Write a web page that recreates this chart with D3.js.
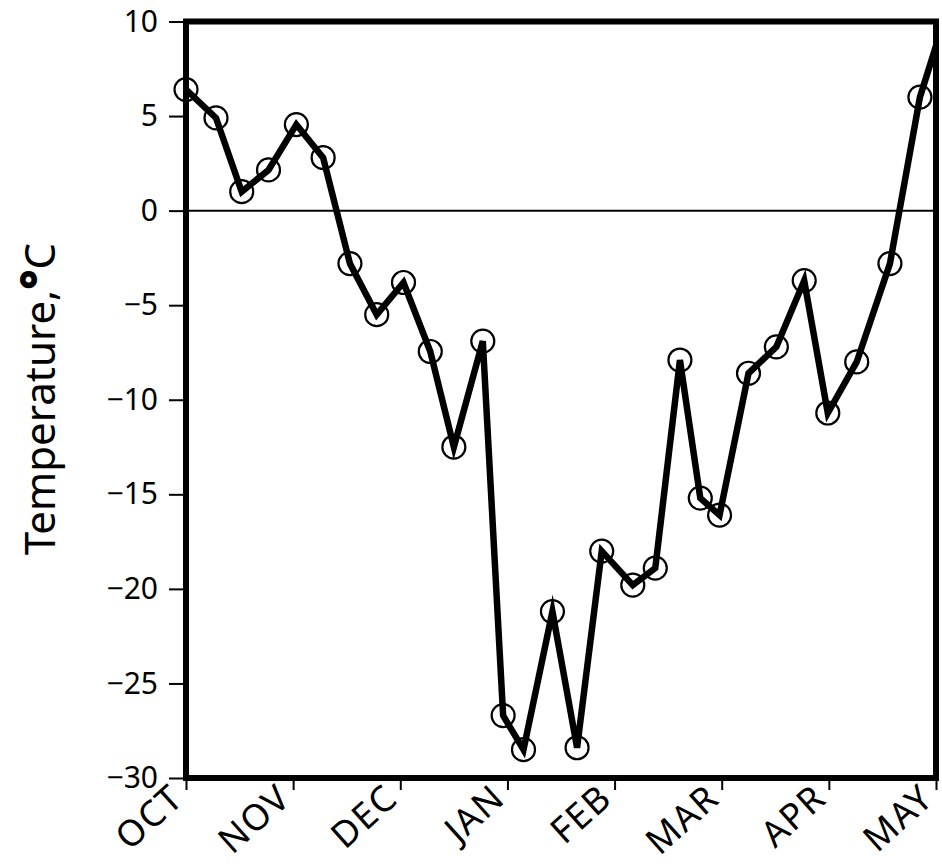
<!DOCTYPE html>
<html>
<head>
<meta charset="utf-8">
<script src="https://cdn.jsdelivr.net/npm/d3@7"></script>
<style>
  html, body { margin: 0; padding: 0; background: #fff; }
  svg { display: block; }
  text { font-family: "Noto Sans", "DejaVu Sans", sans-serif; fill: #000; }
</style>
</head>
<body>
<script>
// ---- data ----
const months = ["OCT", "NOV", "DEC", "JAN", "FEB", "MAR", "APR", "MAY"];
const monthIndex = [0, 1, 2, 3, 4, 5, 6, 7];
// observation position, in months after 1 October
const obsMonth = [0.0, 0.28, 0.52, 0.77, 1.03, 1.28, 1.53, 1.78, 2.03, 2.28,
                  2.50, 2.77, 2.96, 3.15, 3.42, 3.65, 3.88, 4.17, 4.38, 4.61,
                  4.80, 4.98, 5.25, 5.51, 5.77, 5.99, 6.26, 6.57, 6.85, 7.0];
// temperature, °C
const obsTemp = [6.4, 4.9, 1.0, 2.15, 4.55, 2.8, -2.8, -5.5, -3.8, -7.45,
                 -12.5, -6.9, -26.7, -28.5, -21.2, -28.4, -18.0, -19.8, -18.9, -7.9,
                 -15.2, -16.1, -8.6, -7.2, -3.7, -10.7, -8.0, -2.8, 6.0, 8.7];
const yTicks = [10, 5, 0, -5, -10, -15, -20, -25, -30];
const yTitleMain = "Temperature,";
const yTitleDeg = "°";
const yTitleUnit = "C";

// ---- layout ----
const W = 942, H = 867;
const mLeft = 186, mRight = 936, mTop = 21.5, mBottom = 778;

const svg = d3.select("body").append("svg").attr("width", W).attr("height", H);

const x = d3.scaleLinear().domain([0, 7]).range([mLeft, mRight]);
const y = d3.scaleLinear().domain([-30, 10]).range([mBottom, mTop]);

// zero line
svg.append("line")
  .attr("x1", mLeft).attr("x2", mRight)
  .attr("y1", y(0)).attr("y2", y(0))
  .attr("stroke", "#000").attr("stroke-width", 2);

// y axis ticks + labels
const yAxis = d3.axisLeft(y).tickValues(yTicks).tickSize(17).tickPadding(11)
  .tickFormat(d => d < 0 ? "\u2212" + Math.abs(d) : String(d));
const gy = svg.append("g").attr("transform", `translate(${mLeft},0)`).call(yAxis);
gy.select(".domain").remove();
gy.selectAll(".tick line").attr("stroke", "#000").attr("stroke-width", 2);
gy.selectAll(".tick text")
  .style("font-family", "'Noto Sans', sans-serif")
  .style("font-size", "30px").attr("fill", "#000");

// x axis ticks + rotated labels
const xAxis = d3.axisBottom(x).tickValues(monthIndex).tickSize(12)
  .tickFormat(i => months[i]);
const gx = svg.append("g").attr("transform", `translate(0,${mBottom})`).call(xAxis);
gx.select(".domain").remove();
gx.selectAll(".tick line").attr("stroke", "#000").attr("stroke-width", 2);
gx.selectAll(".tick text")
  .attr("y", 0).attr("dy", 0)
  .attr("text-anchor", "end")
  .attr("transform", "translate(-1,23) rotate(-42)")
  .style("font-family", "'Noto Sans', sans-serif")
  .style("letter-spacing", "1.5px")
  .style("font-size", "36px").attr("fill", "#000");

// line
const pts = obsMonth.map((m, i) => [m, obsTemp[i]]);
svg.append("path")
  .datum(pts)
  .attr("fill", "none")
  .attr("stroke", "#000")
  .attr("stroke-width", 6.5)
  .attr("stroke-linejoin", "miter")
  .attr("stroke-miterlimit", 6)
  .attr("d", d3.line().x(d => x(d[0])).y(d => y(d[1])));

// open circle markers (last point hidden by frame in the original)
svg.append("g").selectAll("circle")
  .data(pts.slice(0, pts.length - 1))
  .join("circle")
  .attr("cx", d => x(d[0]))
  .attr("cy", d => y(d[1]))
  .attr("r", 11.5)
  .attr("fill", "none")
  .attr("stroke", "#000")
  .attr("stroke-width", 2.2);

// frame
svg.append("rect")
  .attr("x", mLeft).attr("y", mTop)
  .attr("width", mRight - mLeft).attr("height", mBottom - mTop)
  .attr("fill", "none").attr("stroke", "#000").attr("stroke-width", 6);

// y title
const t = svg.append("text")
  .attr("transform", `translate(55,399) rotate(-90)`)
  .attr("text-anchor", "middle")
  .style("font-size", "42px");
t.append("tspan").text(yTitleMain);
t.append("tspan").style("font-weight", "900").style("font-size", "48px").text(yTitleDeg);
t.append("tspan").text(yTitleUnit);
</script>
</body>
</html>
